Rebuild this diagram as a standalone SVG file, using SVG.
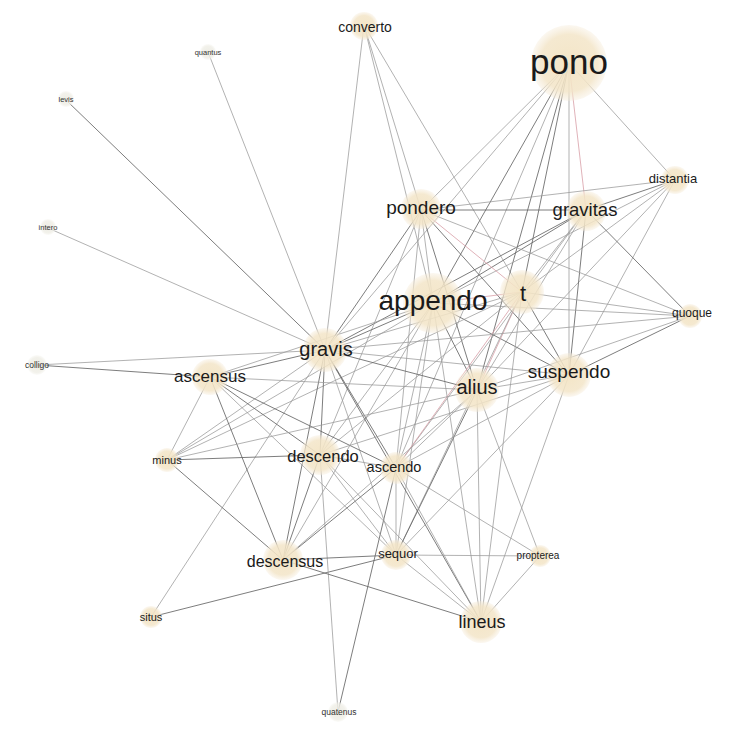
<svg xmlns="http://www.w3.org/2000/svg" width="731" height="736" viewBox="0 0 731 736">
  <defs>
    <radialGradient id="nodeFill">
      <stop offset="0" stop-color="#f3e4c4" stop-opacity="0.95"/>
      <stop offset="0.75" stop-color="#f3e5c8" stop-opacity="0.85"/>
      <stop offset="1" stop-color="#f5ead6" stop-opacity="0.35"/>
    </radialGradient>
    <radialGradient id="minorFill">
      <stop offset="0" stop-color="#ecebe2" stop-opacity="0.9"/>
      <stop offset="0.75" stop-color="#efeee6" stop-opacity="0.8"/>
      <stop offset="1" stop-color="#f2f1ea" stop-opacity="0.3"/>
    </radialGradient>
    <style>
      .e { stroke: #9a9a9a; stroke-width: 0.9; stroke-opacity: 0.85; }
      .d { stroke: #666666; stroke-width: 1; stroke-opacity: 0.85; }
      .p { stroke: #d9a0a8; stroke-width: 0.9; stroke-opacity: 0.9; }
      .n circle { fill: url(#nodeFill); }
      .m circle { fill: url(#minorFill); }
      text { font-family: "Liberation Sans", Arial, sans-serif; fill: #1a1a1a; text-anchor: middle; }
      .m text { fill: #333333; }
    </style>
  </defs>
  <rect width="731" height="736" fill="#ffffff"/>

  <g id="edges">
    <!-- peripheral spokes -->
    <line class="e" x1="208" y1="52" x2="325" y2="350"/>
    <line class="d" x1="66" y1="100" x2="325" y2="350"/>
    <line class="e" x1="48" y1="228" x2="325" y2="350"/>
    <line class="e" x1="37" y1="365" x2="325" y2="350"/>
    <line class="d" x1="37" y1="365" x2="210" y2="377"/>
    <line class="e" x1="151" y1="617" x2="325" y2="350"/>
    <line class="d" x1="151" y1="617" x2="396" y2="555"/>
    <line class="e" x1="338" y1="712" x2="320" y2="455"/>
    <line class="d" x1="338" y1="712" x2="396" y2="468"/>
    <!-- converto -->
    <line class="e" x1="364" y1="25" x2="325" y2="350"/>
    <line class="e" x1="364" y1="25" x2="433" y2="303"/>
    <line class="e" x1="364" y1="25" x2="421" y2="210"/>
    <line class="e" x1="364" y1="25" x2="522" y2="292"/>
    <!-- pono -->
    <line class="e" x1="569" y1="63" x2="421" y2="210"/>
    <line class="d" x1="569" y1="63" x2="433" y2="303"/>
    <line class="e" x1="569" y1="63" x2="325" y2="350"/>
    <line class="d" x1="569" y1="63" x2="522" y2="292"/>
    <line class="d" x1="569" y1="63" x2="477" y2="390"/>
    <line class="e" x1="569" y1="63" x2="569" y2="375"/>
    <line class="p" x1="569" y1="63" x2="586" y2="210"/>
    <line class="e" x1="569" y1="63" x2="675" y2="180"/>
    <line class="e" x1="569" y1="63" x2="396" y2="468"/>
    <!-- distantia -->
    <line class="e" x1="675" y1="180" x2="421" y2="210"/>
    <line class="d" x1="675" y1="180" x2="586" y2="210"/>
    <line class="e" x1="675" y1="180" x2="433" y2="303"/>
    <line class="e" x1="675" y1="180" x2="522" y2="292"/>
    <line class="e" x1="675" y1="180" x2="477" y2="390"/>
    <line class="e" x1="675" y1="180" x2="569" y2="375"/>
    <!-- gravitas -->
    <line class="d" x1="586" y1="210" x2="421" y2="210"/>
    <line class="d" x1="586" y1="210" x2="433" y2="303"/>
    <line class="e" x1="586" y1="210" x2="522" y2="292"/>
    <line class="d" x1="586" y1="210" x2="325" y2="350"/>
    <line class="e" x1="586" y1="210" x2="477" y2="390"/>
    <line class="d" x1="586" y1="210" x2="569" y2="375"/>
    <line class="d" x1="586" y1="210" x2="690" y2="316"/>
    <line class="e" x1="586" y1="210" x2="396" y2="468"/>
    <!-- pondero -->
    <line class="d" x1="421" y1="210" x2="325" y2="350"/>
    <line class="e" x1="421" y1="210" x2="433" y2="303"/>
    <line class="p" x1="421" y1="210" x2="522" y2="292"/>
    <line class="d" x1="421" y1="210" x2="477" y2="390"/>
    <line class="d" x1="421" y1="210" x2="569" y2="375"/>
    <line class="e" x1="421" y1="210" x2="320" y2="455"/>
    <line class="e" x1="421" y1="210" x2="690" y2="316"/>
    <line class="e" x1="421" y1="210" x2="396" y2="468"/>
    <!-- appendo -->
    <line class="d" x1="433" y1="303" x2="325" y2="350"/>
    <line class="p" x1="433" y1="303" x2="522" y2="292"/>
    <line class="d" x1="433" y1="303" x2="477" y2="390"/>
    <line class="d" x1="433" y1="303" x2="569" y2="375"/>
    <line class="e" x1="433" y1="303" x2="210" y2="377"/>
    <line class="e" x1="433" y1="303" x2="320" y2="455"/>
    <line class="e" x1="433" y1="303" x2="396" y2="468"/>
    <line class="e" x1="433" y1="303" x2="396" y2="555"/>
    <line class="e" x1="433" y1="303" x2="481" y2="622"/>
    <line class="e" x1="433" y1="303" x2="690" y2="316"/>
    <line class="e" x1="433" y1="303" x2="283" y2="560"/>
    <line class="e" x1="433" y1="303" x2="167" y2="460"/>
    <!-- t -->
    <line class="e" x1="522" y1="292" x2="325" y2="350"/>
    <line class="p" x1="522" y1="292" x2="477" y2="390"/>
    <line class="d" x1="522" y1="292" x2="569" y2="375"/>
    <line class="e" x1="522" y1="292" x2="690" y2="316"/>
    <line class="p" x1="522" y1="292" x2="396" y2="468"/>
    <line class="e" x1="522" y1="292" x2="396" y2="555"/>
    <line class="e" x1="522" y1="292" x2="481" y2="622"/>
    <line class="e" x1="522" y1="292" x2="320" y2="455"/>
    <line class="e" x1="522" y1="292" x2="167" y2="460"/>
    <!-- gravis -->
    <line class="d" x1="325" y1="350" x2="210" y2="377"/>
    <line class="d" x1="325" y1="350" x2="477" y2="390"/>
    <line class="e" x1="325" y1="350" x2="569" y2="375"/>
    <line class="d" x1="325" y1="350" x2="320" y2="455"/>
    <line class="d" x1="325" y1="350" x2="396" y2="468"/>
    <line class="d" x1="325" y1="350" x2="283" y2="560"/>
    <line class="e" x1="325" y1="350" x2="396" y2="555"/>
    <line class="e" x1="325" y1="350" x2="167" y2="460"/>
    <line class="d" x1="325" y1="350" x2="481" y2="622"/>
    <line class="e" x1="325" y1="350" x2="690" y2="316"/>
    <!-- ascensus -->
    <line class="e" x1="210" y1="377" x2="167" y2="460"/>
    <line class="d" x1="210" y1="377" x2="320" y2="455"/>
    <line class="d" x1="210" y1="377" x2="283" y2="560"/>
    <line class="d" x1="210" y1="377" x2="396" y2="468"/>
    <line class="e" x1="210" y1="377" x2="396" y2="555"/>
    <line class="e" x1="210" y1="377" x2="477" y2="390"/>
    <!-- alius -->
    <line class="e" x1="477" y1="390" x2="569" y2="375"/>
    <line class="e" x1="477" y1="390" x2="396" y2="468"/>
    <line class="d" x1="477" y1="390" x2="396" y2="555"/>
    <line class="e" x1="477" y1="390" x2="481" y2="622"/>
    <line class="e" x1="477" y1="390" x2="540" y2="556"/>
    <line class="e" x1="477" y1="390" x2="283" y2="560"/>
    <line class="e" x1="477" y1="390" x2="690" y2="316"/>
    <line class="e" x1="477" y1="390" x2="167" y2="460"/>
    <!-- suspendo -->
    <line class="d" x1="569" y1="375" x2="690" y2="316"/>
    <line class="e" x1="569" y1="375" x2="396" y2="468"/>
    <line class="e" x1="569" y1="375" x2="396" y2="555"/>
    <line class="e" x1="569" y1="375" x2="481" y2="622"/>
    <line class="e" x1="569" y1="375" x2="320" y2="455"/>
    <!-- lower cluster -->
    <line class="d" x1="167" y1="460" x2="320" y2="455"/>
    <line class="d" x1="167" y1="460" x2="283" y2="560"/>
    <line class="d" x1="320" y1="455" x2="283" y2="560"/>
    <line class="e" x1="320" y1="455" x2="396" y2="555"/>
    <line class="e" x1="320" y1="455" x2="396" y2="468"/>
    <line class="e" x1="320" y1="455" x2="481" y2="622"/>
    <line class="d" x1="396" y1="468" x2="283" y2="560"/>
    <line class="e" x1="396" y1="468" x2="396" y2="555"/>
    <line class="e" x1="396" y1="468" x2="481" y2="622"/>
    <line class="e" x1="396" y1="468" x2="540" y2="556"/>
    <line class="d" x1="283" y1="560" x2="396" y2="555"/>
    <line class="d" x1="283" y1="560" x2="481" y2="622"/>
    <line class="e" x1="396" y1="555" x2="540" y2="556"/>
    <line class="e" x1="396" y1="555" x2="481" y2="622"/>
    <line class="e" x1="481" y1="622" x2="540" y2="556"/>
  </g>

  <g id="n-pono" class="n"><circle cx="569" cy="63" r="38"/><text x="569" y="74" font-size="35">pono</text></g>
  <g id="n-converto" class="n"><circle cx="364" cy="26" r="14"/><text x="365" y="32" font-size="14">converto</text></g>
  <g id="n-quantus" class="m"><circle cx="208" cy="52" r="8"/><text x="208" y="54.5" font-size="7.5">quantus</text></g>
  <g id="n-levis" class="m"><circle cx="66" cy="99" r="8"/><text x="66" y="101.5" font-size="7.5">levis</text></g>
  <g id="n-intero" class="m"><circle cx="48" cy="227" r="8"/><text x="48" y="230" font-size="7.5">intero</text></g>
  <g id="n-colligo" class="m"><circle cx="37" cy="365" r="10"/><text x="37" y="368" font-size="8.5">colligo</text></g>
  <g id="n-distantia" class="n"><circle cx="675" cy="180" r="14"/><text x="673" y="183" font-size="13">distantia</text></g>
  <g id="n-gravitas" class="n"><circle cx="586" cy="211" r="20"/><text x="585" y="216" font-size="18.5">gravitas</text></g>
  <g id="n-pondero" class="n"><circle cx="421" cy="209" r="20"/><text x="421" y="214" font-size="19">pondero</text></g>
  <g id="n-appendo" class="n"><circle cx="433" cy="303" r="30"/><text x="433" y="310" font-size="28">appendo</text></g>
  <g id="n-t" class="n"><circle cx="522" cy="292" r="22"/><text x="523" y="301" font-size="22">t</text></g>
  <g id="n-quoque" class="n"><circle cx="690" cy="316" r="12"/><text x="692" y="317" font-size="12">quoque</text></g>
  <g id="n-gravis" class="n"><circle cx="325" cy="350" r="22"/><text x="326" y="356" font-size="20">gravis</text></g>
  <g id="n-ascensus" class="n"><circle cx="210" cy="377" r="18"/><text x="210" y="382" font-size="17">ascensus</text></g>
  <g id="n-alius" class="n"><circle cx="477" cy="390" r="22"/><text x="477" y="394" font-size="20">alius</text></g>
  <g id="n-suspendo" class="n"><circle cx="569" cy="375" r="22"/><text x="569" y="378" font-size="19">suspendo</text></g>
  <g id="n-minus" class="n"><circle cx="167" cy="460" r="12"/><text x="167" y="463.5" font-size="11">minus</text></g>
  <g id="n-descendo" class="n"><circle cx="320" cy="455" r="20"/><text x="323" y="462" font-size="16.5">descendo</text></g>
  <g id="n-ascendo" class="n"><circle cx="396" cy="468" r="16"/><text x="394" y="472" font-size="14.5">ascendo</text></g>
  <g id="n-descensus" class="n"><circle cx="283" cy="560" r="20"/><text x="285" y="567" font-size="16">descensus</text></g>
  <g id="n-sequor" class="n"><circle cx="396" cy="555" r="15"/><text x="398" y="558" font-size="13">sequor</text></g>
  <g id="n-propterea" class="n"><circle cx="540" cy="556" r="11"/><text x="538" y="559" font-size="10">propterea</text></g>
  <g id="n-situs" class="n"><circle cx="151" cy="617" r="11"/><text x="151" y="620.5" font-size="11">situs</text></g>
  <g id="n-lineus" class="n"><circle cx="481" cy="622" r="21"/><text x="482" y="628" font-size="18">lineus</text></g>
  <g id="n-quatenus" class="m"><circle cx="338" cy="712" r="10"/><text x="339" y="715" font-size="8.5">quatenus</text></g>
</svg>
